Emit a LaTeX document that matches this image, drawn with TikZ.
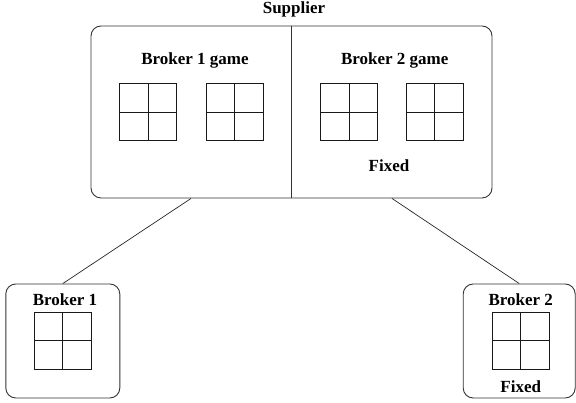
\documentclass[tikz,border=0pt]{standalone}
\usepackage{fontspec}
\setmainfont{Liberation Serif}
\usetikzlibrary{calc}
\tikzset{
  frame/.style={draw=black!80, line width=0.9pt, rounded corners=10pt, inner sep=0pt},
  gridbox/.style={draw=black!90, line width=0.9pt, minimum size=57pt, inner sep=0pt,
    path picture={\draw[black!90, line width=0.9pt]
      (path picture bounding box.north) -- (path picture bounding box.south)
      (path picture bounding box.west) -- (path picture bounding box.east);}},
  lbl/.style={font=\fontsize{17}{19}\selectfont\bfseries, inner sep=0pt, text=black},
  link/.style={draw=black!85, line width=0.7pt}
}
\begin{document}
\begin{tikzpicture}[x=1pt,y=1pt]
  \useasboundingbox (0,0) rectangle (576,403);

  % supplier box split into the two broker games
  \node[frame, minimum width=401pt, minimum height=172pt] (supplier) at (291.5,291) {};
  \draw[black!80, line width=0.9pt] (supplier.north) -- (supplier.south);
  \node[lbl] (suplbl) at (294,394) {Supplier};
  \node[lbl] (g1lbl) at (195,343) {Broker 1 game};
  \node[lbl] (g2lbl) at (394.7,343) {Broker 2 game};
  \node[gridbox] (g1a) at (148.3,291) {};
  \node[gridbox] (g1b) at (234.5,291) {};
  \node[gridbox] (g2a) at (349,291) {};
  \node[gridbox] (g2b) at (434.5,291) {};
  \node[lbl] (fix1) at (389,237) {Fixed};

  % brokers
  \node[frame, minimum width=114pt, minimum height=114pt] (b1) at (62.8,62) {};
  \node[lbl] (b1lbl) at (65,103) {Broker 1};
  \node[gridbox] (b1g) at (62.5,62.2) {};

  \node[frame, minimum width=112pt, minimum height=114pt] (b2) at (519.2,62) {};
  \node[lbl] (b2lbl) at (520.7,103) {Broker 2};
  \node[gridbox] (b2g) at (520.8,62.2) {};
  \node[lbl] (fix2) at (520.7,16) {Fixed};

  % connectors
  \coordinate (s1) at ($(supplier.south west)!0.5!(supplier.south)$);
  \coordinate (s2) at ($(supplier.south)!0.5!(supplier.south east)$);
  \draw[link] (s1) -- (b1.north);
  \draw[link] (s2) -- (b2.north);
\end{tikzpicture}
\end{document}
